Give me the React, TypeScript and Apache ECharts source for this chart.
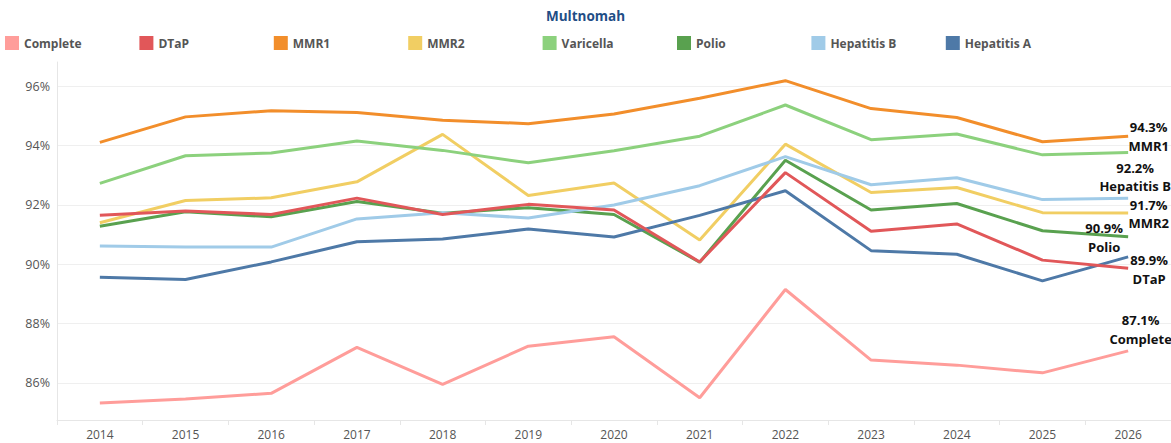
import React, { useEffect, useRef } from "react";
import * as echarts from "echarts";

const years = ["2014", "2015", "2016", "2017", "2018", "2019", "2020", "2021", "2022", "2023", "2024", "2025", "2026"];

const complete = [85.32, 85.46, 85.65, 87.2, 85.95, 87.24, 87.56, 85.5, 89.15, 86.77, 86.6, 86.34, 87.08];
const dtap = [91.65, 91.8, 91.68, 92.23, 91.68, 92.02, 91.83, 90.08, 93.09, 91.11, 91.36, 90.14, 89.87];
const mmr1 = [94.11, 94.97, 95.18, 95.12, 94.86, 94.74, 95.07, 95.6, 96.19, 95.25, 94.95, 94.13, 94.32];
const mmr2 = [91.4, 92.15, 92.24, 92.78, 94.38, 92.32, 92.74, 90.82, 94.05, 92.42, 92.59, 91.74, 91.73];
const varicella = [92.73, 93.66, 93.75, 94.16, 93.84, 93.42, 93.83, 94.32, 95.37, 94.2, 94.39, 93.69, 93.77];
const polio = [91.28, 91.77, 91.6, 92.12, 91.72, 91.91, 91.68, 90.07, 93.51, 91.83, 92.05, 91.13, 90.93];
const hepB = [90.62, 90.58, 90.58, 91.53, 91.74, 91.56, 92.0, 92.65, 93.63, 92.68, 92.92, 92.18, 92.23];
const hepA = [89.56, 89.49, 90.08, 90.76, 90.85, 91.19, 90.92, 91.65, 92.48, 90.46, 90.34, 89.44, 90.25];

const yTicks = [86, 88, 90, 92, 94, 96];

type S = { name: string; data: number[]; color: string; z: number; end?: [number, number] };

const seriesDefs: S[] = [
  { name: "Complete", data: complete, color: "#FF9D9A", z: 2, end: [12.5, -21.4] },
  { name: "MMR1", data: mmr1, color: "#F28E2B", z: 2, end: [20.5, 0.5] },
  { name: "MMR2", data: mmr2, color: "#F1CE63", z: 2, end: [20.5, 1] },
  { name: "Varicella", data: varicella, color: "#8CD17D", z: 2 },
  { name: "Polio", data: polio, color: "#59A14F", z: 2, end: [-24, 1] },
  { name: "Hepatitis B", data: hepB, color: "#A0CBE8", z: 2, end: [7, -21] },
  { name: "Hepatitis A", data: hepA, color: "#4E79A7", z: 3 },
  { name: "DTaP", data: dtap, color: "#E15759", z: 3, end: [21, 1.6] },
];

const legendOrder = ["Complete", "DTaP", "MMR1", "MMR2", "Varicella", "Polio", "Hepatitis B", "Hepatitis A"];

const FONT = "'Open Sans', 'Noto Sans', sans-serif";

export default function App() {
  const ref = useRef<HTMLDivElement>(null);
  useEffect(() => {
    if (!ref.current) return;
    const chart = echarts.init(ref.current, null, { renderer: "svg" });
    const last = years.length - 1;
    const series = seriesDefs.map((s) => {
      const o: any = {
        name: s.name,
        type: "line",
        data: s.data,
        z: s.z,
        symbol: "none",
        lineStyle: { color: s.color, width: 3 },
        itemStyle: { color: s.color },
        emphasis: { disabled: true },
      };
      if (s.end) {
        o.markPoint = {
          silent: true,
          symbol: "rect",
          symbolSize: 1,
          itemStyle: { color: "rgba(0,0,0,0)" },
          label: {
            show: true,
            position: "inside",
            offset: s.end,
            align: "center",
            verticalAlign: "middle",
            color: "#111",
            fontFamily: FONT,
            fontWeight: "bold",
            fontSize: 13,
            lineHeight: 18.5,
            formatter: s.data[last].toFixed(1) + "%\n" + s.name,
          },
          data: [{ coord: [years[last], s.data[last]] }],
        };
      }
      return o;
    });
    const legends = legendOrder.map((name, i) => ({
      data: [name],
      left: i * 134.4,
      top: 31,
      icon: "rect",
      itemWidth: 14,
      itemHeight: 14,
      selectedMode: false,
      textStyle: { color: "#555", fontSize: 12, fontWeight: "bold", fontFamily: FONT },
    }));
    chart.setOption({
      animation: false,
      textStyle: { fontFamily: FONT },
      title: {
        text: "Multnomah",
        left: "center",
        top: 4,
        textStyle: { color: "#1F4E86", fontSize: 13.5, fontWeight: "bold", fontFamily: FONT },
      },
      legend: legends,
      grid: { left: 57, right: 0, top: 62, bottom: 23, containLabel: false },
      xAxis: {
        type: "category",
        data: years,
        boundaryGap: true,
        axisLine: { lineStyle: { color: "#e6e6e6", width: 1 } },
        axisTick: { show: true, length: 5, lineStyle: { color: "#e6e6e6" } },
        axisLabel: { color: "#555", fontSize: 12, margin: 8, fontFamily: FONT },
      },
      yAxis: {
        type: "value",
        min: 84.75,
        max: 96.82,
        axisLine: { show: true, lineStyle: { color: "#e6e6e6" } },
        axisTick: { show: false },
        axisLabel: {
          color: "#555",
          fontSize: 12.5,
          margin: 7,
          fontFamily: FONT,
          showMinLabel: false,
          showMaxLabel: false,
          formatter: (v: number) => (yTicks.indexOf(Math.round(v * 100) / 100) >= 0 ? v + "%" : ""),
        },
        splitLine: {
          lineStyle: {
            color: ["#efefef", "#efefef", "#efefef", "#efefef", "#efefef", "#efefef", "#efefef", "rgba(0,0,0,0)"],
            width: 1,
          },
        },
      },
      series,
    });
    return () => chart.dispose();
  }, []);
  return (
    <div
      ref={ref}
      style={{ position: "fixed", left: 0, top: 0, width: 1171, height: 443, background: "#fff" }}
    />
  );
}
